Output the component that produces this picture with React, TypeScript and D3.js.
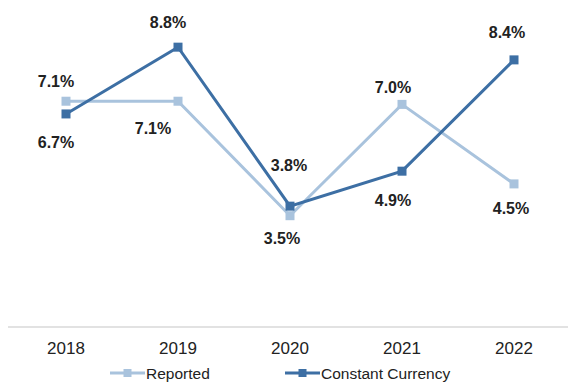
import React from "react";
import * as d3 from "d3";

const years = ["2018", "2019", "2020", "2021", "2022"];
const reported = [7.1, 7.1, 3.5, 7.0, 4.5];
const constantCurrency = [6.7, 8.8, 3.8, 4.9, 8.4];
const seriesNames = ["Reported", "Constant Currency"];

// layout-only label nudges [dx, dy] relative to each point
const reportedLabelOffsets: [number, number][] = [[-10, -20], [-25, 27], [-8, 23], [-9, -17], [-3, 25]];
const ccLabelOffsets: [number, number][] = [[-10, 29], [-10, -25], [-1, -41], [-9, 29], [-7, -27]];

const W = 568;
const H = 383;
const COLOR_REP = "#a9c3dd";
const COLOR_CC = "#3d6fa4";
const FONT = "'Liberation Sans', Arial, sans-serif";

export default function App() {
  const x = d3.scalePoint<string>().domain(years).range([66, 514]);
  const y = d3.scaleLinear().domain([0, 10]).range([327, 9]);
  const line = d3
    .line<number>()
    .x((_, i) => x(years[i]) as number)
    .y((v) => y(v));

  const series = [
    { name: seriesNames[0], values: reported, color: COLOR_REP, offsets: reportedLabelOffsets },
    { name: seriesNames[1], values: constantCurrency, color: COLOR_CC, offsets: ccLabelOffsets },
  ];
  const ms = 9;

  const legendItems = [
    { name: seriesNames[0], color: COLOR_REP, x0: 110 },
    { name: seriesNames[1], color: COLOR_CC, x0: 285 },
  ];

  return (
    <svg
      width={W}
      height={H}
      style={{ position: "absolute", left: 0, top: 0, background: "#fff" }}
      fontFamily={FONT}
    >
      <rect width={W} height={H} fill="#fff" />
      <line x1={8} x2={568} y1={y(0)} y2={y(0)} stroke="#d9d9d9" strokeWidth={1.5} />
      {years.map((yr) => (
        <text
          key={yr}
          x={x(yr)}
          y={348}
          textAnchor="middle"
          dominantBaseline="central"
          fontSize={17}
          fill="#222"
        >
          {yr}
        </text>
      ))}
      {series.map((s) => (
        <g key={s.name}>
          <path d={line(s.values) || ""} fill="none" stroke={s.color} strokeWidth={3} />
          {s.values.map((v, i) => (
            <rect
              key={i}
              x={(x(years[i]) as number) - ms / 2}
              y={y(v) - ms / 2}
              width={ms}
              height={ms}
              fill={s.color}
            />
          ))}
        </g>
      ))}
      {series.map((s) =>
        s.values.map((v, i) => (
          <text
            key={s.name + i}
            x={(x(years[i]) as number) + s.offsets[i][0]}
            y={y(v) + s.offsets[i][1]}
            textAnchor="middle"
            dominantBaseline="central"
            fontSize={16}
            fontWeight="bold"
            fill="#222"
          >
            {v.toFixed(1) + "%"}
          </text>
        ))
      )}
      {legendItems.map((l) => (
        <g key={l.name}>
          <line x1={l.x0} x2={l.x0 + 35} y1={373} y2={373} stroke={l.color} strokeWidth={3} />
          <rect x={l.x0 + 17.5 - 4} y={369} width={8} height={8} fill={l.color} />
          <text x={l.x0 + 36} y={373} dominantBaseline="central" fontSize={15.5} fill="#222">
            {l.name}
          </text>
        </g>
      ))}
    </svg>
  );
}
